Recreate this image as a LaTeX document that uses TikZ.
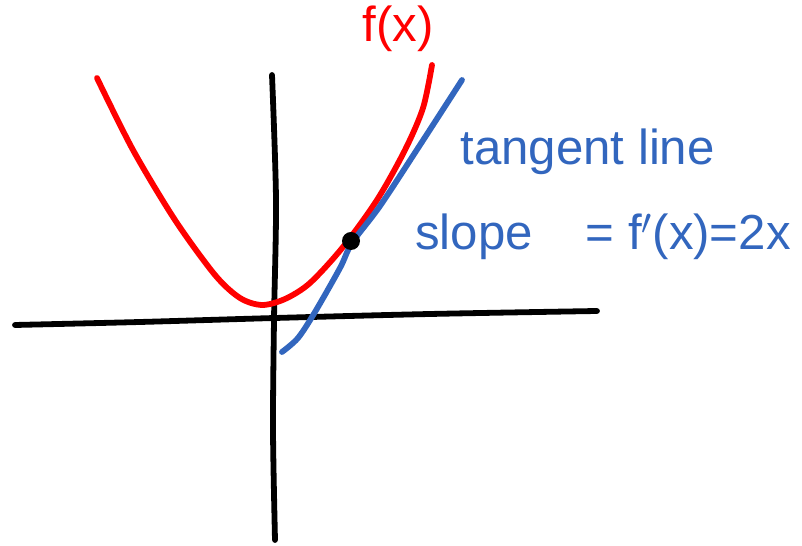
\documentclass[tikz,border=0pt]{standalone}
\usepackage{fontspec}
\setmainfont{Liberation Sans}
\usepackage{xcolor}
\usetikzlibrary{positioning}

\definecolor{penred}{RGB}{255,0,0}
\definecolor{penblue}{RGB}{50,102,190}

\tikzset{
  pen/.style={line width=3.3pt, line cap=round, line join=round},
  scrawl/.style={font=\fontsize{28}{30}\selectfont, inner sep=0pt}
}

\begin{document}
\begin{tikzpicture}[x=0.02cm, y=-0.02cm]
  \useasboundingbox (0,0) rectangle (802,546);

  % Axes
  \draw[pen, black] plot[smooth] coordinates {(15,325) (140,322) (275,318) (430,314) (597,311)};
  \draw[pen, black] plot[smooth] coordinates {(272,75) (276,200) (274,320) (273,430) (275,540)};

  % Parabola
  \draw[pen, penred] plot[smooth] coordinates {(97,78) (133,150) (175,220) (215,275)
    (240,298) (262,305) (285,299) (310,283) (343,247) (377,200) (405,150) (423,108) (432,65)};
  \node[scrawl, text=penred, anchor=base] (fx) at (398,42) {f(x)};

  % Tangent line
  \draw[pen, penblue] plot[smooth] coordinates {(282,352) (298,338) (315,312) (340,268)
    (352,243) (380,206) (420,145) (462,80)};
  \fill[black] (351,241) circle (9);
  \node[scrawl, text=penblue, anchor=base west] (tangent) at (460,165) {tangent line};
  \node[scrawl, text=penblue, anchor=base west] (slope) at (415,250) {slope\hspace{30pt}= f$'$(x)=2x};
\end{tikzpicture}
\end{document}
